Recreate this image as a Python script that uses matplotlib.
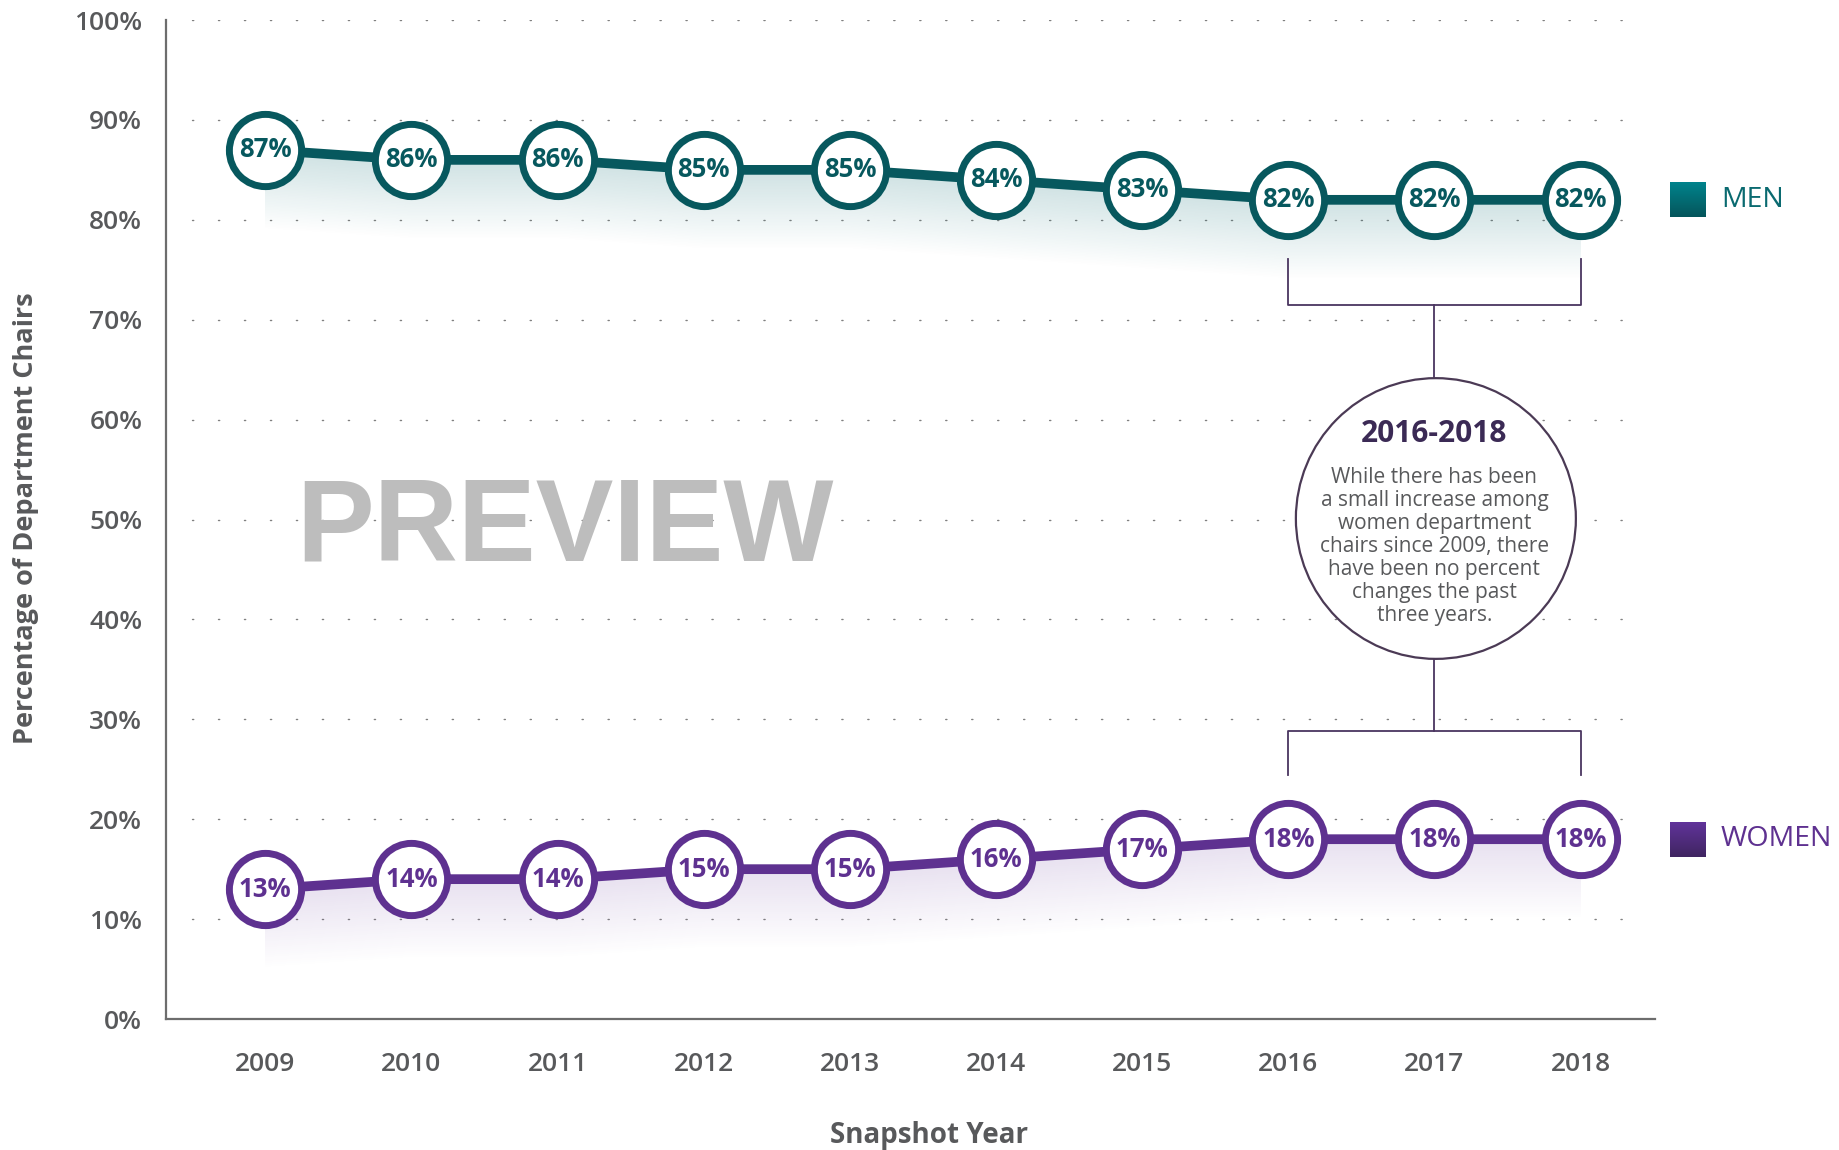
import numpy as np
import matplotlib
matplotlib.use("Agg")
import matplotlib.pyplot as plt
from matplotlib.patches import Ellipse
from matplotlib.colors import to_rgb

years = [2009, 2010, 2011, 2012, 2013, 2014, 2015, 2016, 2017, 2018]
men = [87, 86, 86, 85, 85, 84, 83, 82, 82, 82]
women = [13, 14, 14, 15, 15, 16, 17, 18, 18, 18]
y_ticks = [0, 10, 20, 30, 40, 50, 60, 70, 80, 90, 100]

callout_title = "2016-2018"
callout_body = ("While there has been\na small increase among\nwomen department\n"
                "chairs since 2009, there\nhave been no percent\nchanges the past\nthree years.")

TEAL = "#07585E"
PURPLE = "#5E3190"
GREY = "#58595B"
plt.rcParams['font.family'] = ['Open Sans', 'DejaVu Sans']

fig = plt.figure(figsize=(18.4, 11.5), dpi=100)
ax = fig.add_axes([0.0902, 0.1139, 0.8093, 0.8687])


def gradient_fill(ax, x, y, depth, color, alpha_top):
    x = np.asarray(x, float)
    y = np.asarray(y, float)
    xs = np.linspace(x.min(), x.max(), 600)
    ys = np.linspace(y.min() - depth, y.max() + 1, 300)
    XX, YY = np.meshgrid(xs, ys)
    line = np.interp(XX, x, y)
    d = line - YY
    a = np.where(d < 0, 0.0, alpha_top * np.clip(1 - d / depth, 0, 1))
    img = np.zeros(XX.shape + (4,))
    img[..., :3] = to_rgb(color)
    img[..., 3] = a
    ax.imshow(img, extent=[xs[0], xs[-1], ys[0], ys[-1]], origin="lower",
              aspect="auto", zorder=1, interpolation="bilinear")


# dotted grid
for t in y_ticks[1:]:
    ax.plot([2008.5, 2018.42], [t, t], color="#808080", lw=1.0,
            linestyle=(0, (0.9, 17.8)), zorder=0.5, dash_capstyle="round")

gradient_fill(ax, years, men, 8, "#0E6E74", 0.2)
gradient_fill(ax, years, women, 8, "#6B3FA0", 0.16)

for vals, col in [(men, TEAL), (women, PURPLE)]:
    ax.plot(years, vals, color=col, lw=7, zorder=3, solid_capstyle="butt")
    ax.plot(years, vals, linestyle="none", marker="o", ms=52, mfc="white",
            mec=col, mew=5, zorder=4)
    for x, v in zip(years, vals):
        ax.text(x, v, f"{v}%", ha="center", va="center", fontsize=18.5,
                fontweight="bold", color=col, zorder=5)

# legend squares with gradient
def grad_square(ax, x0, x1, yc, h, c_top, c_bot):
    g = np.linspace(0, 1, 50)[:, None, None]
    img = np.array(to_rgb(c_bot))[None, None, :] * (1 - g) + np.array(to_rgb(c_top))[None, None, :] * g
    im = ax.imshow(img, extent=[x0, x1, yc - h / 2, yc + h / 2], origin="lower",
                   aspect="auto", zorder=5)
    im.set_clip_on(False)

grad_square(ax, 2018.61, 2018.85, men[-1], 3.5, "#00838C", "#05555B")
grad_square(ax, 2018.61, 2018.85, women[-1], 3.5, "#61339A", "#3F2561")
ax.text(2018.96, men[-1], "MEN", ha="left", va="center", fontsize=20.5,
        color="#0A6A70", clip_on=False)
ax.text(2018.96, women[-1], "WOMEN", ha="left", va="center", fontsize=20.5,
        color=PURPLE, clip_on=False)

# callout
BR = "#4A3560"
ax.plot([2016, 2016, 2018, 2018], [76.1, 71.5, 71.5, 76.1], color=BR, lw=1.3, zorder=2)
ax.plot([2017, 2017], [71.5, 64.1], color=BR, lw=1.3, zorder=2)
ax.plot([2016, 2016, 2018, 2018], [24.4, 28.8, 28.8, 24.4], color=BR, lw=1.3, zorder=2)
ax.plot([2017, 2017], [28.8, 36.0], color=BR, lw=1.3, zorder=2)
ax.add_patch(Ellipse((2017.01, 50.1), 1.916, 28.1, facecolor="white",
                     edgecolor="#4B3A55", lw=1.6, zorder=6))
ax.text(2017.0, 58.6, callout_title, ha="center", va="center", fontsize=21.5,
        fontweight="bold", color="#3B2A55", zorder=7)
ax.text(2017.0, 47.3, callout_body, ha="center", va="center", fontsize=15,
        color=GREY, linespacing=1.13, zorder=7)

# watermark
ax.text(2011.05, 49.0, "PREVIEW", ha="center", va="center", fontsize=84,
        fontweight="bold", color="#BDBDBD", family="Liberation Sans", zorder=8)

ax.set_xlim(2008.32, 2018.51)
ax.set_ylim(0, 100)
ax.set_xticks(years)
ax.set_xticklabels([str(y) for y in years])
ax.set_yticks(y_ticks)
ax.set_yticklabels([f"{t}%" for t in y_ticks])
ax.tick_params(axis="both", length=0, labelsize=19, labelcolor=GREY)
ax.tick_params(axis="y", pad=17)
ax.tick_params(axis="x", pad=24)
for lab in ax.get_xticklabels() + ax.get_yticklabels():
    lab.set_fontweight("semibold")
for s in ["top", "right"]:
    ax.spines[s].set_visible(False)
for s in ["left", "bottom"]:
    ax.spines[s].set_color("#6D6D6D")
    ax.spines[s].set_linewidth(1.6)

fig.text(0.505, 0.013, "Snapshot Year", ha="center", va="center", fontsize=20,
         fontweight="bold", color=GREY)
fig.text(0.014, 0.549, "Percentage of Department Chairs", ha="center", va="center",
         rotation=90, fontsize=19.5, fontweight="bold", color=GREY)

fig.savefig("out.png", dpi=100)
